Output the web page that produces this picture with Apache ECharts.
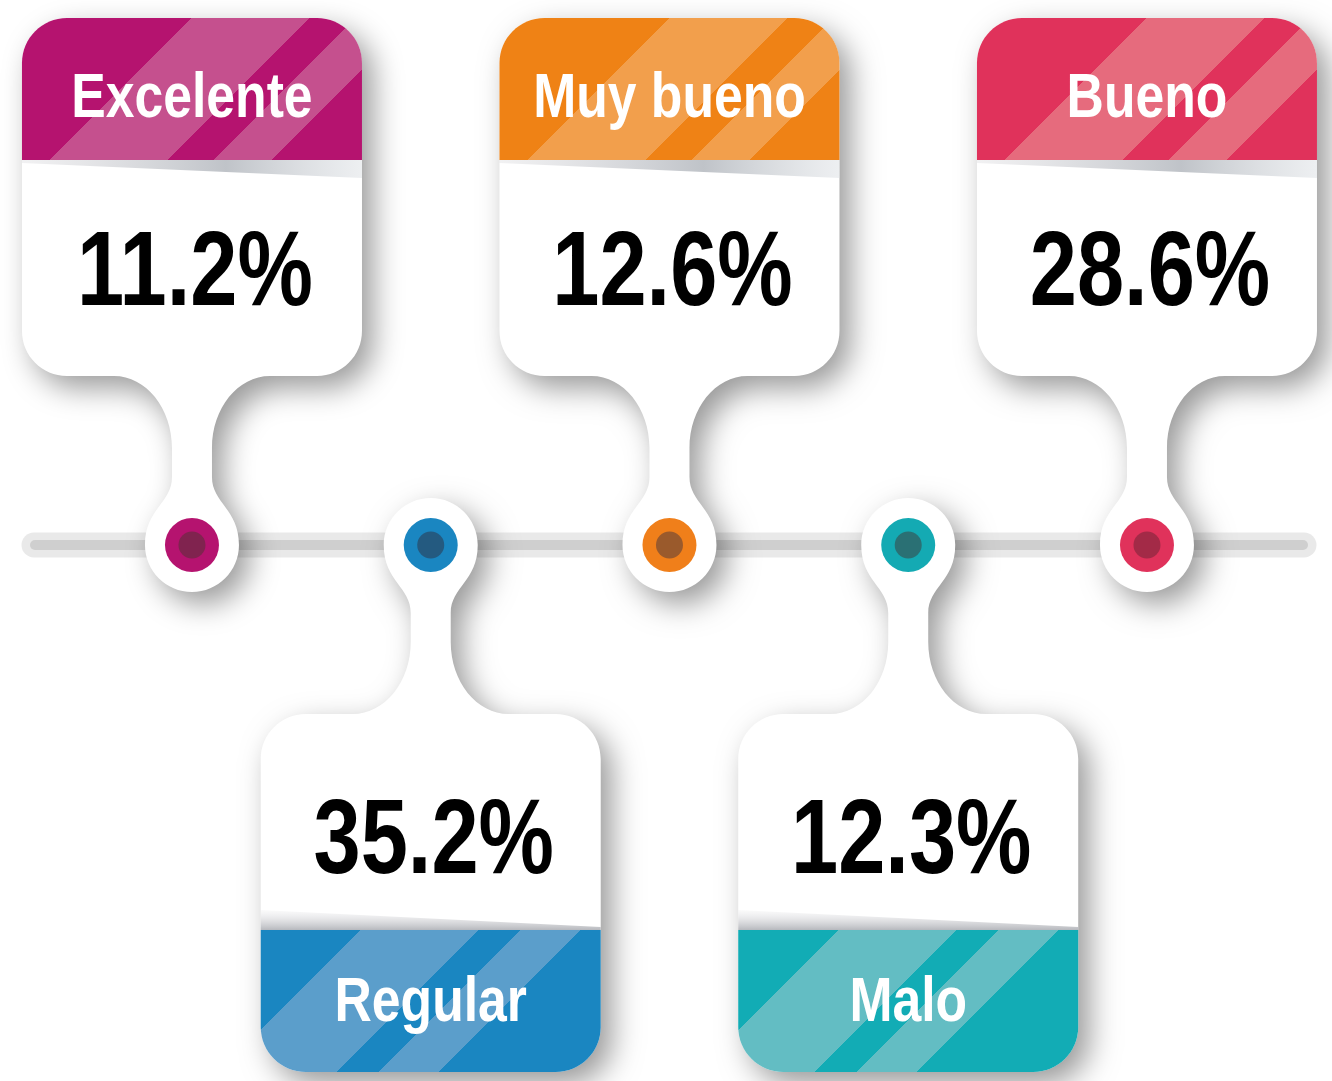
<!DOCTYPE html>
<html><head><meta charset="utf-8">
<script src="https://cdn.jsdelivr.net/npm/echarts@6/dist/echarts.min.js"></script>
<style>html,body{margin:0;padding:0;background:#fff}#c{width:1332px;height:1081px}</style>
</head><body><div id="c"></div>
<script>
// ---- data ----
const categories = ['Excelente', 'Regular', 'Muy bueno', 'Malo', 'Bueno'];
const values = [11.2, 35.2, 12.6, 12.3, 28.6];

// ---- styles ----
const palette = [
  { base: '#b5136f', light: '#c5508e', ring: '#b5136f', core: '#80234f' },
  { base: '#1a86c1', light: '#5b9ecb', ring: '#1a86c1', core: '#245a80' },
  { base: '#ef8215', light: '#f29f4c', ring: '#f07f1a', core: '#9a5a2c' },
  { base: '#12acb5', light: '#63bdc3', ring: '#14aab3', core: '#2a7074' },
  { base: '#e0325b', light: '#e66b7d', ring: '#e0325b', core: '#a32a47' }
];
const FONT = '"Liberation Sans", Arial, Helvetica, sans-serif';

function renderItem(params, api) {
  const i = params.dataIndex;
  const p = api.coord([api.value(0), 0]);
  const cx = p[0], cy = p[1];
  const dir = i % 2 === 0 ? -1 : 1;
  const Y = d => cy + dir * d;
  const W = 170, R = 45, DF = 527, DB = 169, NH = 20, CW = 78, CH = 72, RC = 47, K = 0.5523;
  const DN = DB - CH;
  const f = n => n.toFixed(2);
  const P = (x, y) => f(x) + ' ' + f(y);

  let d = 'M' + P(cx - RC, Y(0));
  d += ' C' + P(cx - RC, Y(36)) + ' ' + P(cx - NH, Y(42)) + ' ' + P(cx - NH, Y(68));
  d += ' L' + P(cx - NH, Y(DN));
  d += ' C' + P(cx - NH, Y(DN + K * CH)) + ' ' + P(cx - CW + K * (CW - NH), Y(DB)) + ' ' + P(cx - CW, Y(DB));
  d += ' L' + P(cx - W + R, Y(DB));
  d += ' C' + P(cx - W + R - K * R, Y(DB)) + ' ' + P(cx - W, Y(DB + R - K * R)) + ' ' + P(cx - W, Y(DB + R));
  d += ' L' + P(cx - W, Y(DF - R));
  d += ' C' + P(cx - W, Y(DF - R + K * R)) + ' ' + P(cx - W + R - K * R, Y(DF)) + ' ' + P(cx - W + R, Y(DF));
  d += ' L' + P(cx + W - R, Y(DF));
  d += ' C' + P(cx + W - R + K * R, Y(DF)) + ' ' + P(cx + W, Y(DF - R + K * R)) + ' ' + P(cx + W, Y(DF - R));
  d += ' L' + P(cx + W, Y(DB + R));
  d += ' C' + P(cx + W, Y(DB + R - K * R)) + ' ' + P(cx + W - R + K * R, Y(DB)) + ' ' + P(cx + W - R, Y(DB));
  d += ' L' + P(cx + CW, Y(DB));
  d += ' C' + P(cx + CW - K * (CW - NH), Y(DB)) + ' ' + P(cx + NH, Y(DN + K * CH)) + ' ' + P(cx + NH, Y(DN));
  d += ' L' + P(cx + NH, Y(68));
  d += ' C' + P(cx + NH, Y(42)) + ' ' + P(cx + RC, Y(36)) + ' ' + P(cx + RC, Y(0));
  d += ' C' + P(cx + RC, Y(-K * RC)) + ' ' + P(cx + K * RC, Y(-RC)) + ' ' + P(cx, Y(-RC));
  d += ' C' + P(cx - K * RC, Y(-RC)) + ' ' + P(cx - RC, Y(-K * RC)) + ' ' + P(cx - RC, Y(0));
  d += ' Z';

  const DBand = 385;
  let b = 'M' + P(cx - W, Y(DBand));
  b += ' L' + P(cx - W, Y(DF - R));
  b += ' C' + P(cx - W, Y(DF - R + K * R)) + ' ' + P(cx - W + R - K * R, Y(DF)) + ' ' + P(cx - W + R, Y(DF));
  b += ' L' + P(cx + W - R, Y(DF));
  b += ' C' + P(cx + W - R + K * R, Y(DF)) + ' ' + P(cx + W, Y(DF - R + K * R)) + ' ' + P(cx + W, Y(DF - R));
  b += ' L' + P(cx + W, Y(DBand)) + ' Z';

  const c = palette[i];
  const x0 = cx - W, x1 = cx + W, yref = Y(DBand);
  const st = dir < 0 ? [28, 146, 192, 250] : [100, 218, 260, 320];
  const sA = -200, sB = 520, T = s => (s - sA) / (sB - sA);
  const stops = [
    { offset: 0, color: c.base },
    { offset: T(st[0]), color: c.base }, { offset: T(st[0]), color: c.light },
    { offset: T(st[1]), color: c.light }, { offset: T(st[1]), color: c.base },
    { offset: T(st[2]), color: c.base }, { offset: T(st[2]), color: c.light },
    { offset: T(st[3]), color: c.light }, { offset: T(st[3]), color: c.base },
    { offset: 1, color: c.base }
  ];
  const grad = new echarts.graphic.LinearGradient(x0 + sA / 2, yref + sA / 2, x0 + sB / 2, yref + sB / 2, stops, true);

  let wedgePts, wedgeFill;
  if (dir < 0) {
    wedgePts = [[x0, yref], [x1, yref], [x1, yref + 18], [x0, yref + 3]];
    wedgeFill = new echarts.graphic.LinearGradient(x0, 0, x1, 0, [
      { offset: 0, color: 'rgba(200,200,205,0.25)' },
      { offset: 0.6, color: 'rgba(170,175,182,0.75)' },
      { offset: 1, color: 'rgba(220,224,228,0.5)' }
    ], true);
  } else {
    wedgePts = [[x0, yref - 20], [x1, yref - 3], [x1, yref], [x0, yref]];
    wedgeFill = new echarts.graphic.LinearGradient(0, 0, 0, 1, [
      { offset: 0, color: 'rgba(230,230,232,0.2)' },
      { offset: 1, color: 'rgba(170,172,178,0.85)' }
    ]);
  }

  return {
    type: 'group',
    children: [
      { type: 'path', shape: { pathData: d },
        style: { fill: '#ffffff', shadowBlur: 30, shadowOffsetX: 11, shadowOffsetY: 12, shadowColor: 'rgba(0,0,0,0.4)' } },
      { type: 'path', shape: { pathData: b }, style: { fill: grad } },
      { type: 'polygon', shape: { points: wedgePts }, style: { fill: wedgeFill } },
      { type: 'text', x: cx, y: Y(452) + 7, scaleX: 0.82,
        style: { text: categories[i], fill: '#ffffff', font: 'bold 63px ' + FONT, align: 'center', verticalAlign: 'middle' } },
      { type: 'text', x: cx + 3, y: Y(dir < 0 ? 278.5 : 290) + 9, scaleX: 0.8,
        style: { text: api.value(1).toFixed(1) + '%', fill: '#000000', font: 'bold 106px ' + FONT, align: 'center', verticalAlign: 'middle' } },
      { type: 'circle', shape: { cx: cx, cy: cy, r: 27 }, style: { fill: c.ring } },
      { type: 'circle', shape: { cx: cx, cy: cy, r: 13.5 }, style: { fill: c.core } }
    ]
  };
}

const chart = echarts.init(document.getElementById('c'), null, { renderer: 'canvas' });
chart.setOption({
  backgroundColor: '#ffffff',
  animation: false,
  grid: { left: 72.6, right: 65.65, top: 9, bottom: 0 },
  xAxis: { type: 'category', data: categories, show: false },
  yAxis: { type: 'value', min: -1, max: 1, show: false },
  graphic: [
    { type: 'line', z: 0, shape: { x1: 34, y1: 545, x2: 1304, y2: 545 },
      style: { stroke: '#e9e9e9', lineWidth: 25, lineCap: 'round' } },
    { type: 'line', z: 0, shape: { x1: 35, y1: 545, x2: 1303, y2: 545 },
      style: { stroke: '#cfcfcf', lineWidth: 10, lineCap: 'round' } }
  ],
  series: [{
    type: 'custom',
    clip: false,
    silent: true,
    z: 5,
    renderItem: renderItem,
    data: categories.map((name, i) => [i, values[i]])
  }]
});
</script>
</body></html>
